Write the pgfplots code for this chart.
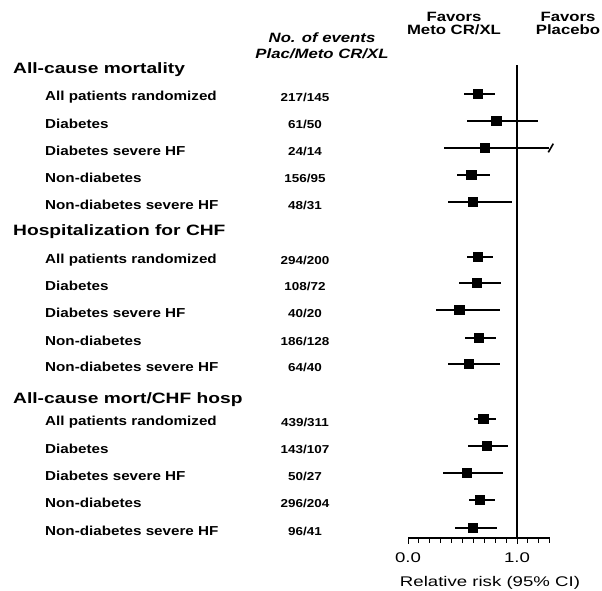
\documentclass[border=0pt]{standalone}
\usepackage{fontspec}
\setmainfont{Liberation Sans}
\newfontfamily\hdr[FakeStretch=1.28]{Liberation Sans}
\newfontfamily\lbl[FakeStretch=1.17]{Liberation Sans}
\newfontfamily\wide[FakeStretch=1.24]{Liberation Sans}
\newfontfamily\rrfont[FakeStretch=1.33]{Liberation Sans}
\usepackage{pgfplots}
\pgfplotsset{compat=1.18}
\usepackage{pgfplotstable}

\pgfplotstableread{
x    y    lo    hi
0.64 497 0.51 0.80
0.81 470 0.54 1.19
0.70 443 0.33 1.29
0.58 416 0.45 0.75
0.59 389 0.37 0.95
0.64 334 0.54 0.78
0.63 308 0.47 0.85
0.47 281 0.26 0.84
0.65 253 0.52 0.81
0.56 227 0.37 0.84
0.69 172 0.61 0.81
0.72 145 0.55 0.92
0.54 118 0.32 0.87
0.66 91  0.56 0.80
0.59 63  0.43 0.82
}\rrdata

\begin{document}
\begin{tikzpicture}[x=1pt,y=1pt]
\useasboundingbox (0,0) rectangle (602,591);
\begin{axis}[
  at={(408pt,53pt)}, anchor=south west,
  scale only axis, width=141.7pt, height=473pt,
  xmin=0, xmax=1.3, ymin=53, ymax=526,
  clip=false,
  axis y line=none, axis x line=bottom,
  x axis line style={-, line width=1.3pt},
  xtick={0,1}, minor xtick={0.1,0.2,...,1.31},
  tick align=outside, major tick length=6pt, minor tick length=5pt,
  every tick/.style={black, line width=0.9pt},
  xticklabel style={font=\rrfont\fontsize{14}{14}\selectfont, yshift=-5pt},
  /pgf/number format/assume math mode=true,
  xticklabel={\pgfmathprintnumber[fixed,fixed zerofill,precision=1]{\tick}},
]
\addplot[black, line width=1.8pt, forget plot] coordinates {(1,53) (1,526)};
\addplot[only marks, mark=square*, mark size=4.6pt, black,
  error bars/.cd, x dir=both, x explicit, error mark=none,
  error bar style={line width=1.4pt}]
  table[x=x, y=y, x error plus expr=\thisrow{hi}-\thisrow{x},
        x error minus expr=\thisrow{x}-\thisrow{lo}] {\rrdata};
\addplot[only marks, mark=|, mark size=5pt, black,
  mark options={rotate=-30, line width=1.6pt}] coordinates {(1.31,443)};
\end{axis}

% column headers
\tikzset{colhdr/.style={font=\wide\bfseries\fontsize{13.5}{16}\selectfont, anchor=base, inner sep=0pt}}
\node[colhdr] at (454,569) {Favors};
\node[colhdr] at (454,556) {Meto CR/XL};
\node[colhdr] at (568,569) {Favors};
\node[colhdr] at (568,556) {Placebo};
\node[colhdr, font=\wide\bfseries\itshape\fontsize{13.5}{16}\selectfont] at (322,548) {No. of events};
\node[colhdr, font=\wide\bfseries\itshape\fontsize{13.5}{16}\selectfont] at (322,532) {Plac/Meto CR/XL};

% section headers
\node[font=\hdr\bfseries\fontsize{15}{15}\selectfont, anchor=base west, inner sep=0pt] at (13,517) {All-cause mortality};
\node[font=\hdr\bfseries\fontsize{15}{15}\selectfont, anchor=base west, inner sep=0pt] at (13,355) {Hospitalization for CHF};
\node[font=\hdr\bfseries\fontsize{15}{15}\selectfont, anchor=base west, inner sep=0pt] at (13,187) {All-cause mort/CHF hosp};

% row labels and counts
\foreach \yy/\lab/\na/\nb in {
  497/All patients randomized/217/145,
  470/Diabetes/61/50,
  443/Diabetes severe HF/24/14,
  416/Non-diabetes/156/95,
  389/Non-diabetes severe HF/48/31,
  334/All patients randomized/294/200,
  308/Diabetes/108/72,
  281/Diabetes severe HF/40/20,
  253/Non-diabetes/186/128,
  227/Non-diabetes severe HF/64/40,
  172/All patients randomized/439/311,
  145/Diabetes/143/107,
  118/Diabetes severe HF/50/27,
  91/Non-diabetes/296/204,
  63/Non-diabetes severe HF/96/41}{
  \node[font=\lbl\bfseries\fontsize{13}{13}\selectfont, anchor=west, inner sep=0pt] at (45,\yy-3) {\lab};
  \node[font=\lbl\bfseries\fontsize{11.5}{12}\selectfont, anchor=center, inner sep=0pt] at (305,\yy-3) {\na/\nb};
}

\node[font=\rrfont\fontsize{14}{14}\selectfont, anchor=base] at (490,4) {Relative risk (95\% CI)};
\end{tikzpicture}
\end{document}
